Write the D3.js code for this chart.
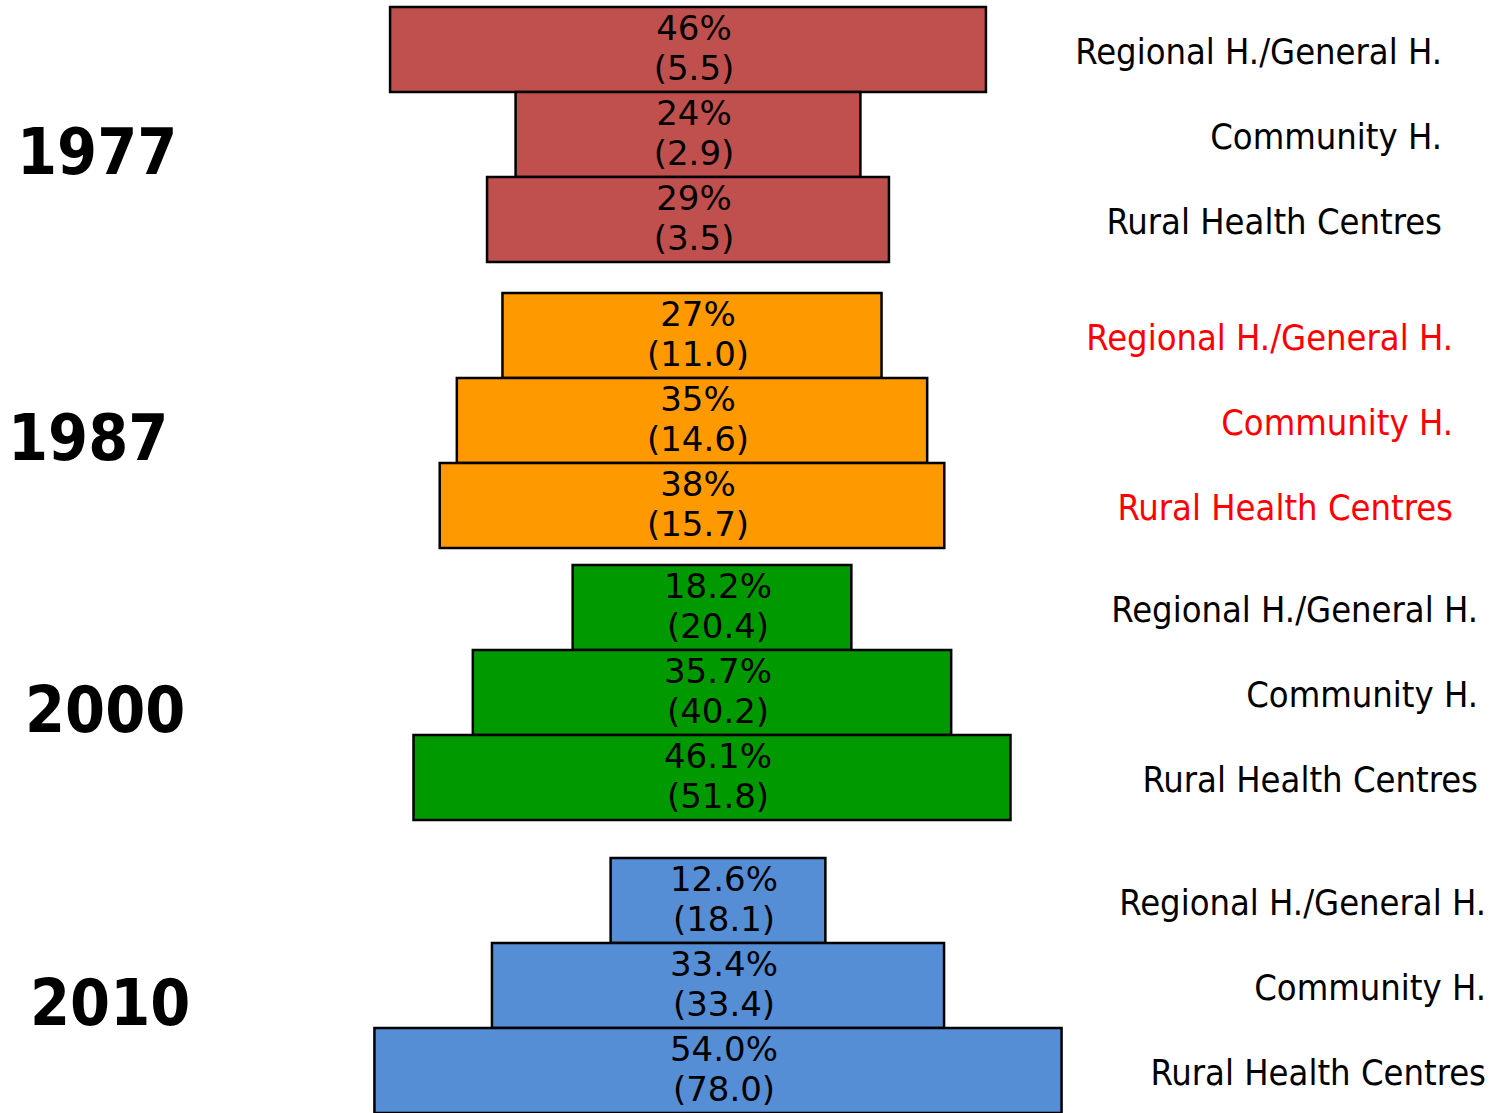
<!DOCTYPE html>
<html lang="en">
<head>
    <meta charset="utf-8">
    <style>
        body { margin: 0; background: #fff; }
        svg { display: block; }
        .bar { stroke: #000; stroke-width: 2.5; }
        .val { font-family: "DejaVu Sans", sans-serif; font-size: 34px; fill: #000; text-anchor: middle; }
        .cat { font-family: "DejaVu Sans Condensed", "DejaVu Sans", sans-serif; font-stretch: condensed; font-size: 36px; text-anchor: end; }
        .year { font-family: "DejaVu Sans Condensed", "DejaVu Sans", sans-serif; font-stretch: condensed; font-weight: bold; font-size: 64px; fill: #000; }
    </style>
</head>
<body>
<svg id="chart" width="1498" height="1113"></svg>
<script src="https://cdn.jsdelivr.net/npm/d3@7"></script>
<script>

    // data
    var years = ["1977", "1987", "2000", "2010"];
    var categories = ["Regional H./General H.", "Community H.", "Rural Health Centres"];
    var share = [
        [46, 24, 29],
        [27, 35, 38],
        [18.2, 35.7, 46.1],
        [12.6, 33.4, 54.0]
    ];
    var shareLabels = [
        ["46%", "24%", "29%"],
        ["27%", "35%", "38%"],
        ["18.2%", "35.7%", "46.1%"],
        ["12.6%", "33.4%", "54.0%"]
    ];
    var counts = [
        ["(5.5)", "(2.9)", "(3.5)"],
        ["(11.0)", "(14.6)", "(15.7)"],
        ["(20.4)", "(40.2)", "(51.8)"],
        ["(18.1)", "(33.4)", "(78.0)"]
    ];
    var colors = ["#C0504D", "#FF9900", "#009900", "#558ED5"];
    var labelColors = ["#000", "#FF0000", "#000", "#000"];

    // layout
    var groupCenter = [688, 692, 712, 718];
    var groupLabelEnd = [1442, 1453, 1478, 1486];
    var yearX = [17, 8, 25, 30];

    var svg = d3.select("#chart");

    // bar width grows with the share (pictogram style, with a base width)
    var w = d3.scaleLinear().domain([0, 100]).range([71, 1212]);
    var gy = d3.scaleLinear().domain([0, 1, 2, 3]).range([7, 293, 565, 858]);
    var ry = d3.scaleBand().domain(categories).range([0, 255]).padding(0);

    years.forEach(function (yr, gi) {
        var g = svg.append("g").attr("transform", "translate(0," + gy(gi) + ")");

        var rows = categories.map(function (c, i) {
            return { cat: c, v: share[gi][i], lab: shareLabels[gi][i], n: counts[gi][i] };
        });

        g.selectAll("rect")
            .data(rows)
            .enter().append("rect")
            .attr("class", "bar")
            .attr("x", function (d) { return groupCenter[gi] - w(d.v) / 2; })
            .attr("y", function (d) { return ry(d.cat); })
            .attr("width", function (d) { return w(d.v); })
            .attr("height", ry.bandwidth())
            .attr("fill", colors[gi]);

        var t = g.selectAll("text.val")
            .data(rows)
            .enter().append("text")
            .attr("class", "val")
            .attr("x", groupCenter[gi] + 6)
            .attr("y", function (d) { return ry(d.cat) + 33; });
        t.append("tspan").text(function (d) { return d.lab; });
        t.append("tspan")
            .attr("x", groupCenter[gi] + 6)
            .attr("dy", 40)
            .text(function (d) { return d.n; });

        g.selectAll("text.cat")
            .data(rows)
            .enter().append("text")
            .attr("class", "cat")
            .attr("x", groupLabelEnd[gi])
            .attr("y", function (d) { return ry(d.cat) + ry.bandwidth() / 2 + 14; })
            .attr("fill", labelColors[gi])
            .text(function (d) { return d.cat; });

        g.append("text")
            .attr("class", "year")
            .attr("x", yearX[gi])
            .attr("y", 167)
            .text(yr);
    });

</script>
</body>
</html>
